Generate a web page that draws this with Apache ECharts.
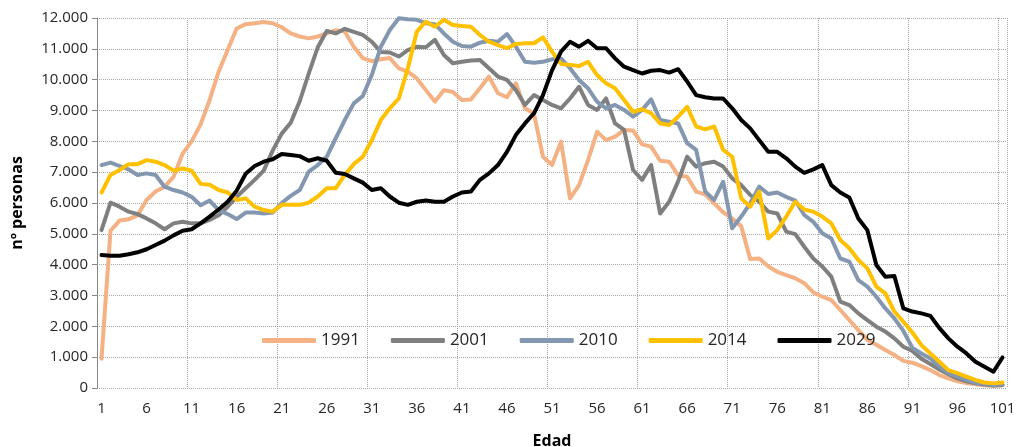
<!DOCTYPE html>
<html>
<head>
<meta charset="utf-8">
<script src="https://cdn.jsdelivr.net/npm/echarts@6/dist/echarts.min.js"></script>
<style>
  html, body { margin: 0; padding: 0; background: #fff; }
  #chart { width: 1020px; height: 447px; }
</style>
</head>
<body>
<div id="chart"></div>
<script>
// edades 1..101
var edades = []
for (var i = 1; i <= 101; i++) edades.push(String(i))

var s1991 = [950, 5100, 5430, 5470, 5600, 6100, 6370, 6530, 6850, 7600,
  8000, 8550, 9340, 10260, 10960, 11660, 11800, 11830, 11870, 11830,
  11700, 11500, 11400, 11340, 11400, 11500, 11600, 11560, 11070, 10700,
  10600, 10660, 10700, 10370, 10260, 10040, 9660, 9290, 9660, 9600,
  9340, 9360, 9720, 10100, 9560, 9430, 9880, 9070, 8900, 7500,
  7230, 7990, 6150, 6580, 7390, 8310, 8040, 8150, 8370, 8350,
  7900, 7830, 7370, 7340, 6900, 6850, 6370, 6280, 5990, 5700,
  5500, 5250, 4180, 4200, 3950, 3770, 3660, 3560, 3400, 3100,
  2960, 2850, 2530, 2200, 1880, 1560, 1400, 1230, 1070, 880,
  820, 710, 580, 420, 310, 220, 160, 120, 90, 70, 90]

var s2001 = [5120, 6010, 5880, 5720, 5640, 5500, 5340, 5150, 5340, 5390,
  5340, 5340, 5450, 5600, 5880, 6200, 6480, 6750, 7050, 7700,
  8250, 8600, 9300, 10200, 11050, 11580, 11500, 11650, 11550, 11450,
  11230, 10900, 10880, 10750, 10960, 11070, 11050, 11290, 10800, 10530,
  10580, 10620, 10640, 10370, 10100, 9990, 9660, 9180, 9500, 9340,
  9180, 9070, 9390, 9770, 9180, 9020, 9390, 8580, 8370, 7070,
  6750, 7230, 5660, 6040, 6700, 7500, 7180, 7290, 7340, 7180,
  6800, 6580, 6260, 6040, 5720, 5660, 5070, 4990, 4580, 4200,
  3940, 3610, 2800, 2690, 2420, 2200, 1990, 1830, 1610, 1340,
  1200, 950, 780, 600, 450, 310, 220, 150, 110, 80, 100]

var s2010 = [7230, 7310, 7200, 7090, 6910, 6960, 6910, 6530, 6420, 6340,
  6200, 5930, 6080, 5770, 5640, 5480, 5690, 5690, 5660, 5690,
  6000, 6230, 6420, 7020, 7230, 7500, 8100, 8690, 9230, 9470,
  10150, 11070, 11610, 11990, 11960, 11940, 11830, 11800, 11500, 11230,
  11090, 11070, 11200, 11260, 11230, 11480, 11070, 10580, 10550, 10580,
  10660, 10690, 10370, 9990, 9720, 9290, 9070, 9180, 9020, 8800,
  9020, 9360, 8690, 8640, 8580, 7940, 7720, 6370, 6100, 6690,
  5180, 5560, 5990, 6530, 6290, 6340, 6200, 6080, 5610, 5390,
  5020, 4850, 4200, 4100, 3500, 3290, 2960, 2580, 2260, 1850,
  1300, 1120, 960, 690, 480, 370, 260, 170, 130, 100, 120]

var s2014 = [6340, 6910, 7070, 7260, 7260, 7390, 7340, 7230, 7050, 7120,
  7050, 6620, 6590, 6420, 6340, 6100, 6150, 5880, 5770, 5720,
  5940, 5940, 5940, 6010, 6210, 6480, 6480, 6910, 7260, 7500,
  8040, 8690, 9070, 9390, 10370, 11560, 11880, 11720, 11940, 11770,
  11740, 11720, 11450, 11230, 11120, 11020, 11160, 11180, 11180, 11370,
  10910, 10510, 10480, 10440, 10580, 10150, 9880, 9720, 9340, 8960,
  9040, 8910, 8580, 8530, 8800, 9120, 8480, 8390, 8480, 7720,
  7500, 6150, 5880, 6370, 4850, 5120, 5560, 6040, 5790, 5720,
  5560, 5340, 4800, 4530, 4150, 3880, 3290, 3070, 2480, 2150,
  1800, 1390, 1120, 850, 580, 480, 370, 260, 180, 150, 180]

var s2029 = [4310, 4290, 4290, 4340, 4400, 4500, 4640, 4780, 4950, 5100,
  5150, 5340, 5560, 5790, 6040, 6400, 6950, 7200, 7340, 7420,
  7590, 7560, 7520, 7370, 7450, 7370, 6980, 6940, 6800, 6660,
  6420, 6480, 6210, 6010, 5940, 6040, 6080, 6040, 6040, 6210,
  6340, 6370, 6750, 6960, 7230, 7660, 8210, 8580, 8910, 9500,
  10300, 10910, 11230, 11070, 11260, 11020, 11020, 10690, 10420, 10310,
  10200, 10290, 10310, 10230, 10340, 9940, 9500, 9430, 9390, 9390,
  9070, 8690, 8420, 8040, 7660, 7660, 7450, 7180, 6980, 7090,
  7230, 6580, 6340, 6180, 5500, 5120, 3990, 3610, 3630, 2580,
  2480, 2420, 2340, 1940, 1610, 1340, 1120, 850, 690, 530, 990]

var nombres = ['1991', '2001', '2010', '2014', '2029']
var colores = ['#F4B183', '#7F7F7F', '#8497B0', '#FFC000', '#000000']
var datos = [s1991, s2001, s2010, s2014, s2029]

var fuente = '"Open Sans", "Noto Sans", sans-serif'

function miles(v) {
  return String(v).replace(/\B(?=(\d{3})+(?!\d))/g, '.')
}

var myChart = echarts.init(document.getElementById('chart'))
var option = {
  animation: false,
  textStyle: { fontFamily: fuente },
  grid: {
    left: 97,
    right: 13,
    top: 18,
    bottom: 59,
    outerBoundsMode: 'none'
  },
  legend: {
    data: nombres,
    left: 257,
    top: 327,
    icon: 'roundRect',
    itemWidth: 54,
    itemHeight: 5,
    itemGap: 31,
    textStyle: {
      color: '#262626',
      fontSize: 17,
      fontFamily: fuente
    }
  },
  xAxis: {
    type: 'category',
    boundaryGap: true,
    data: edades,
    name: 'Edad',
    nameLocation: 'middle',
    nameGap: 45,
    nameTextStyle: {
      color: '#000',
      fontWeight: 'bold',
      fontSize: 16,
      fontFamily: fuente
    },
    axisLine: { show: false },
    axisTick: { show: false },
    axisLabel: {
      interval: 4,
      margin: 13,
      color: '#262626',
      fontSize: 15,
      fontFamily: fuente
    },
    splitLine: {
      show: true,
      interval: 9,
      lineStyle: { color: '#A6A6A6', type: 'dotted', width: 1 }
    }
  },
  yAxis: {
    type: 'value',
    min: 0,
    max: 12000,
    interval: 1000,
    name: 'nº personas',
    nameLocation: 'middle',
    nameGap: 72,
    nameTextStyle: {
      color: '#000',
      fontWeight: 'bold',
      fontSize: 16,
      fontFamily: fuente
    },
    axisLine: { show: true, lineStyle: { color: '#868686', width: 1 } },
    axisTick: { show: true, length: 5, lineStyle: { color: '#868686' } },
    axisLabel: {
      margin: 9,
      color: '#262626',
      fontSize: 15,
      fontFamily: fuente,
      formatter: miles
    },
    splitLine: {
      show: true,
      lineStyle: { color: '#A6A6A6', type: 'dotted', width: 1 }
    }
  },
  series: nombres.map(function(n, k) {
    return {
      name: n,
      type: 'line',
      data: datos[k],
      symbol: 'none',
      color: colores[k],
      lineStyle: { width: 4, color: colores[k], join: 'round', cap: 'round' },
      z: 2 + k
    }
  })
}
myChart.setOption(option)
</script>
</body>
</html>
